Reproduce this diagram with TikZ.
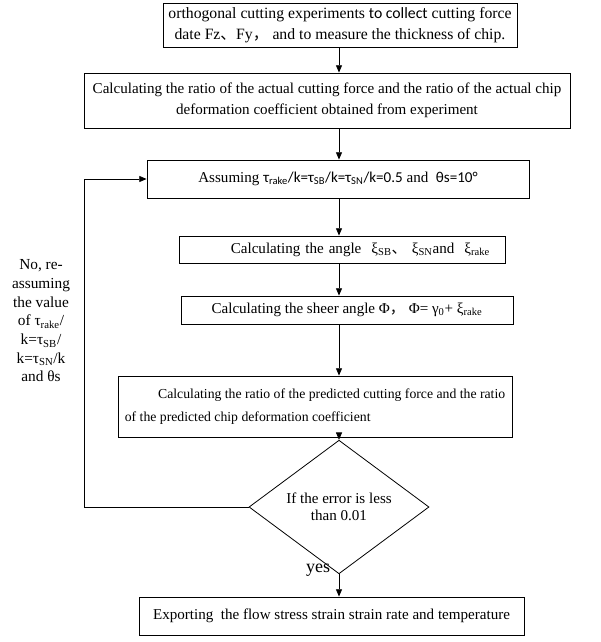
\documentclass[tikz,border=0pt]{standalone}
\usepackage{fontspec}
\setmainfont{Liberation Serif}
\newfontfamily\calfont{Carlito}
\newfontfamily\cjkfont{Noto Sans CJK SC}
\usetikzlibrary{arrows.meta,shapes.geometric}
\begin{document}
\begin{tikzpicture}[x=0.75pt,y=-0.75pt,
  box/.style={draw,line width=0.6pt,inner sep=0pt,align=center,font=\fontsize{11.3}{16}\selectfont},
  arr/.style={line width=0.6pt,-{Triangle[length=5.5pt,width=4.5pt]}},
  lbl/.style={align=center,inner sep=0pt}]
\useasboundingbox (0,0) rectangle (600,642);
\coordinate (ax) at (339,0);
\node[box,minimum width=265.5pt,minimum height=33pt,font=\fontsize{11.8}{15.75}\selectfont] (b1) at (340,25)
  {orthogonal cutting experiments {\calfont to collect} cutting force\\date Fz{\cjkfont 、}Fy{\cjkfont ，} and to measure the thickness of chip.};
\node[box,minimum width=364.5pt,minimum height=41.25pt] (b2) at (327,100.5)
  {Calculating the ratio of the actual cutting force and the ratio of the actual chip\\deformation coefficient obtained from experiment};
\node[box,minimum width=286.5pt,minimum height=28.5pt] (b3) at (338,179)
  {Assuming {\calfont τ\textsubscript{rake}/k=τ\textsubscript{SB}/k=τ\textsubscript{SN}/k=0.5} and\ \ {\calfont θs=10°}};
\node[box,minimum width=244.5pt,minimum height=20.25pt,inner xsep=11.25pt,text width=222pt,align=right] (b4) at (342,249.5)
  {Calculating the angle\ \ ξ\textsubscript{SB}{\cjkfont 、}\ ξ\textsubscript{SN}and\ \ ξ\textsubscript{rake}};
\node[box,minimum width=295.5pt,minimum height=45.75pt,inner xsep=3pt,align=left,font=\fontsize{10.3}{17}\selectfont] (b6) at (315,406.5)
  {\hspace*{25pt}Calculating the ratio of the predicted cutting force and the ratio\\of the predicted chip deformation coefficient};
\node[box,minimum width=249pt,minimum height=21pt] (b5) at (347,310)
  {Calculating the sheer angle Φ{\cjkfont ，}\ Φ= γ\textsubscript{0}+ ξ\textsubscript{rake}};
\node[draw,diamond,line width=0.6pt,inner sep=0pt,minimum width=135pt,minimum height=54pt,align=center,font=\fontsize{11.3}{13}\selectfont] (d) at (339,507)
  {If the error is less\\than 0.01};
\node[box,minimum width=288.75pt,minimum height=28.5pt] (b7) at (331.5,616)
  {Exporting\ \ the flow stress strain strain rate and temperature};
\node[lbl,font=\fontsize{13.5}{16}\selectfont] (yes) at (318,570) {yes};
\node[lbl,font=\fontsize{11.5}{14}\selectfont] (no) at (41,321)
  {No, re-\\assuming\\the value\\of τ\textsubscript{rake}/\\k=τ\textsubscript{SB}/\\k=τ\textsubscript{SN}/k\\and θs};
\coordinate (lp) at (84,507);
\draw[arr] (b1.south -| ax) -- (b2.north -| ax);
\draw[arr] (b2.south -| ax) -- (b3.north -| ax);
\draw[arr] (b3.south -| ax) -- (b4.north -| ax);
\draw[arr] (b4.south -| ax) -- (b5.north -| ax);
\draw[arr] (b5.south -| ax) -- (b6.north -| ax);
\draw[arr] (b6.south -| ax) -- (d.north);
\draw[arr] (d.south) -- (b7.north -| ax);
\draw[arr] (d.west) -- (lp) |- (b3.west);
\end{tikzpicture}
\end{document}
